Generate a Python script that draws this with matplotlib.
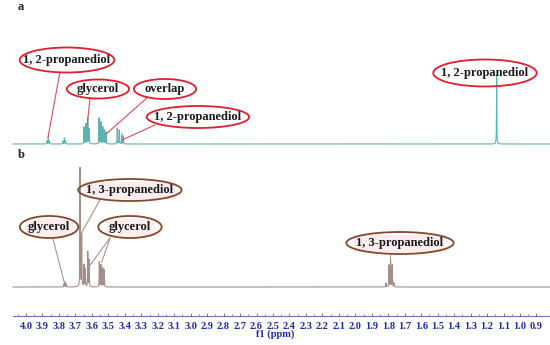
import numpy as np
import matplotlib
matplotlib.use("Agg")
import matplotlib.pyplot as plt
from matplotlib.patches import Ellipse

# ---------------- data ----------------
# spectrum a: peak shifts (ppm) and heights (arbitrary units)
a_shift = [3.872, 3.865, 3.858, 3.775, 3.767, 3.760,
           3.648, 3.636, 3.625, 3.617,
           3.557, 3.545, 3.534, 3.525, 3.514,
           3.446, 3.434, 3.419, 3.409,
           1.142]
a_height = [3, 7, 3, 3, 6, 3,
            17, 20, 26, 15,
            26, 22, 17, 14, 12,
            16, 14, 10, 8,
            69]

# spectrum b
b_shift = [3.770, 3.763, 3.756,
           3.672, 3.662, 3.648, 3.640, 3.625, 3.617,
           3.555, 3.545, 3.534, 3.525,
           1.814, 1.796, 1.786, 1.776, 1.766]
b_height = [3, 5, 3,
            119, 52, 22, 18, 35, 27,
            25, 22, 19, 17,
            4, 22, 26, 22, 4]

tick_values = [4.0, 3.9, 3.8, 3.7, 3.6, 3.5, 3.4, 3.3, 3.2, 3.1, 3.0, 2.9, 2.8,
               2.7, 2.6, 2.5, 2.4, 2.3, 2.2, 2.1, 2.0, 1.9, 1.8, 1.7, 1.6, 1.5,
               1.4, 1.3, 1.2, 1.1, 1.0, 0.9]
tick_labels = [f"{v:.1f}" for v in tick_values]

# ---------------- figure ----------------
W, H = 550, 345
fig = plt.figure(figsize=(W / 100, H / 100), dpi=100)
fig.patch.set_facecolor("white")

XL = (4.158, 0.818)
serif = ["Liberation Serif", "DejaVu Serif"]
FS = 9


def spectrum(shifts, heights, hw=0.0011):
    x = np.linspace(4.079, 0.818, 24000)
    y = np.zeros_like(x)
    for s, h in zip(shifts, heights):
        y += h * hw ** 2 / ((x - s) ** 2 + hw ** 2)
    return x, y


def px_axes(top, bottom, ymax):
    ax = fig.add_axes([0, (H - bottom) / H, 1, (bottom - top) / H])
    ax.set_xlim(*XL)
    ax.set_ylim(0, ymax)
    ax.axis("off")
    return ax


ax_a = px_axes(40, 144, 104)
ax_b = px_axes(157, 287, 130)

xa, ya = spectrum(a_shift, a_height)
ax_a.plot(xa, ya, color="#5fb2b2", lw=0.8, clip_on=False)
xb, yb = spectrum(b_shift, b_height)
ax_b.plot(xb, yb, color="#a48e88", lw=0.8, clip_on=False)


def label(ax, text, cx, cy, w, h, lines, ecol, lcol, pink=False):
    kw = dict(ha="center", va="center", fontsize=FS, fontweight="bold",
              family=serif, color="#1a1a1a", zorder=4)
    if pink:
        kw["bbox"] = dict(boxstyle="square,pad=0.2", fc="#fcedf1", ec="none")
    ax.text(cx, cy, text, **kw)
    e = Ellipse((cx, cy), w, h, fill=False, ec=ecol, lw=1.3, zorder=5,
                clip_on=False)
    ax.add_patch(e)
    for (x0, y0), (x1, y1) in lines:
        ax.plot([x0, x1], [y0, y1], color=lcol, lw=0.8, zorder=3,
                clip_on=False)


red = "#e01e2d"
redl = "#e04a55"
label(ax_a, "1, 2-propanediol", 3.751, 84, 0.575, 25,
      [((3.794, 72), (3.866, 7))], red, redl)
label(ax_a, "glycerol", 3.563, 55, 0.378, 19,
      [((3.611, 46), (3.628, 20))], red, redl)
label(ax_a, "overlap", 3.156, 55, 0.378, 20,
      [((3.259, 47), (3.514, 10))], red, redl)
label(ax_a, "1, 2-propanediol", 2.956, 27, 0.622, 22,
      [((3.217, 19), (3.417, 4))], red, redl)
label(ax_a, "1, 2-propanediol", 1.213, 71, 0.628, 27, [], red, redl)

brown = "#86482a"
brl = "#a8968c"
label(ax_b, "1, 3-propanediol", 3.369, 97, 0.628, 22,
      [((3.551, 87), (3.670, 52))], brown, brl, pink=True)
label(ax_b, "glycerol", 3.860, 60, 0.355, 22,
      [((3.836, 48), (3.765, 3))], brown, brl, pink=True)
label(ax_b, "glycerol", 3.369, 60, 0.385, 22,
      [((3.490, 49), (3.624, 19)), ((3.490, 49), (3.540, 25))],
      brown, brl, pink=True)
label(ax_b, "1, 3-propanediol", 1.729, 44, 0.652, 22,
      [((1.787, 33), (1.787, 24))], brown, brl, pink=True)

fig.text(18 / W, 1 - 7 / H, "a", family=serif, fontweight="bold",
         fontsize=9, ha="left", va="center", color="#222222")
fig.text(18 / W, 1 - 155 / H, "b", family=serif, fontweight="bold",
         fontsize=9, ha="left", va="center", color="#222222")

# ---------------- ppm axis ----------------
ax_t = fig.add_axes([0, (H - 316) / H, 1, 0.01])
ax_t.set_xlim(*XL)
ax_t.set_yticks([])
for s in ("left", "right", "top"):
    ax_t.spines[s].set_visible(False)
ax_t.spines["bottom"].set_color("#6e72bf")
ax_t.spines["bottom"].set_linewidth(0.8)
ax_t.spines["bottom"].set_bounds(4.079, 0.818)
ax_t.patch.set_alpha(0)
ax_t.set_xticks(tick_values)
ax_t.set_xticklabels(tick_labels)
ax_t.set_xticks(np.round(np.arange(4.05, 0.85, -0.1), 2), minor=True)
ax_t.tick_params(axis="x", which="major", direction="in", length=2.5,
                 width=0.7, color="#6e72bf", pad=4, labelsize=7.5,
                 labelcolor="#1f2aa8")
ax_t.tick_params(axis="x", which="minor", direction="in", length=1.5,
                 width=0.6, color="#6e72bf")
for t in ax_t.get_xticklabels():
    t.set_family(serif)
    t.set_fontweight("bold")
ax_t.set_xlabel("f1 (ppm)", family=serif, fontweight="bold", fontsize=7.5,
                color="#1f2aa8", labelpad=-1)

fig.savefig("out.png", dpi=100, facecolor="white")
